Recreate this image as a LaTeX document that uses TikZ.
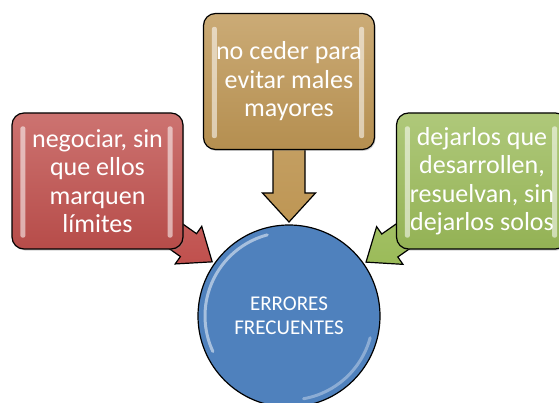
\documentclass[tikz,border=0pt]{standalone}
\usepackage{fontspec}
\setmainfont{Carlito}
\usetikzlibrary{calc,shadows}
\pgfdeclarelayer{background}
\pgfsetlayers{background,main}
\definecolor{rojo}{RGB}{192,80,77}
\definecolor{oro}{RGB}{190,150,84}
\definecolor{verde}{RGB}{155,187,89}
\definecolor{azul}{RGB}{79,129,189}
\def\blockarrow[#1](#2)(#3:#4:#5:#6){\coordinate (#3-base) at ($(#3)!#6!(#2)$);
	\draw[#1] ($(#2)!#4!90:(#3)$) -- ($(#3-base)!#4!90:(#3)$) -- ($(#3-base)!#5!90:(#3)$) -- (#3)
	-- ($(#3-base)!#5!-90:(#3)$) -- ($(#3-base)!#4!-90:(#3)$) -- ($(#2)!#4!-90:(#3)$) -- cycle;}
\def\gloss(#1){\fill[white, opacity=0.55, rounded corners=2pt] ($(#1.north west)+(9pt,-14pt)$) rectangle ($(#1.south west)+(14pt,12pt)$);
	\fill[white, opacity=0.55, rounded corners=2pt] ($(#1.north east)+(-16pt,-14pt)$) rectangle ($(#1.south east)+(-11pt,12pt)$);}
\tikzset{
	caja/.style={draw=black, line width=1.2pt, rounded corners=12pt, top color=#1!80!white, bottom color=#1!95!black,
		minimum width=171pt, minimum height=136pt, inner sep=0pt, align=center, text=white,
		font=\fontsize{26}{28.5}\selectfont, drop shadow={opacity=0.35, shadow xshift=1pt, shadow yshift=-1.5pt}},
	flecha/.style={draw=black, line width=1.2pt, line join=miter, top color=#1!85!white, bottom color=#1}
}

\begin{document}
\begin{tikzpicture}[x=1pt, y=1pt]
		%%%%% START %%%%%
		\useasboundingbox (0, 0) rectangle (559, 402);
		
		\node[caja=rojo] (negociar) at (97.5, 221) {negociar, sin\\que ellos\\marquen\\límites};
		\node[caja=oro] (mayores) at (289, 320.5) {no ceder para\\evitar males\\mayores};
		\node[caja=verde] (dejarlos) at (482, 221) {dejarlos que\\desarrollen,\\resuelvan, sin\\dejarlos solos};
		
		\gloss(negociar)
		\gloss(mayores)
		\gloss(dejarlos)
		
		\node[circle, draw=black, line width=1.2pt, fill=azul, minimum size=182pt, inner sep=0pt, align=center,
			text=white, font=\fontsize{21}{24}\selectfont] (errores) at (289, 86) {ERRORES\\FRECUENTES};
		\draw[white, opacity=0.5, line width=3pt, line cap=round] ($(errores.center)+(105:84)$) arc (105:205:84);
		\draw[white, opacity=0.35, line width=3pt, line cap=round] ($(errores.center)+(-15:84)$) arc (-15:-80:84);
		
		\coordinate (tiprojo) at ($(errores.center)!94pt!(negociar.center)$);
		\coordinate (tiporo) at ($(errores.center)!94pt!(mayores.center)$);
		\coordinate (tipverde) at ($(errores.center)!94pt!(dejarlos.center)$);
		
		\begin{pgfonlayer}{background}
			\blockarrow[flecha=rojo](negociar.center)(tiprojo:14pt:23pt:29pt)
			\blockarrow[flecha=oro](mayores.center)(tiporo:16pt:26.5pt:29pt)
			\blockarrow[flecha=verde](dejarlos.center)(tipverde:14pt:23pt:29pt)
		\end{pgfonlayer}
		
		%%%%% END %%%%%
	\end{tikzpicture}
\end{document}
